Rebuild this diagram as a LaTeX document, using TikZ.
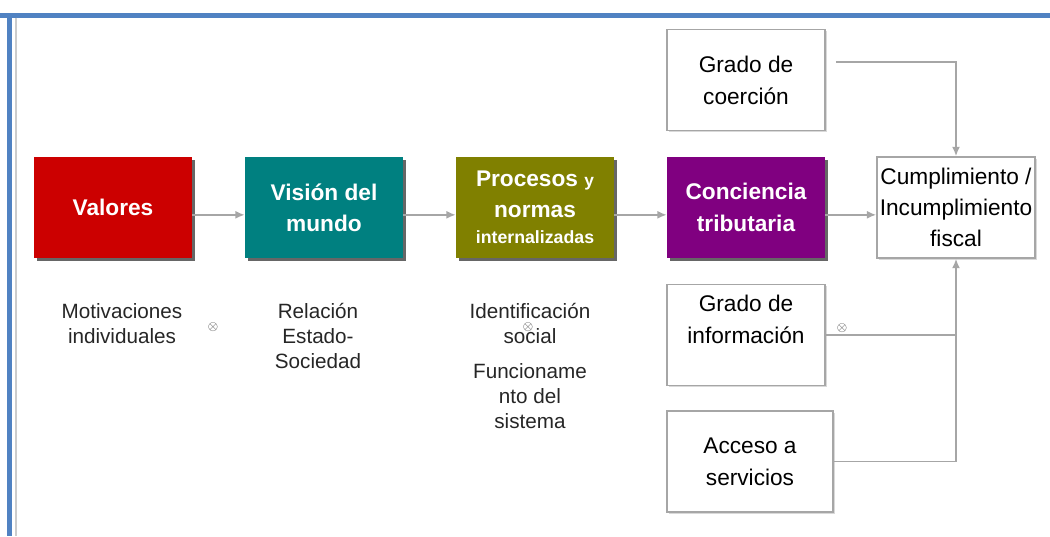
\documentclass[tikz,border=0pt]{standalone}
\usepackage{fontspec}
\setmainfont{Liberation Sans}
\usetikzlibrary{shadows,arrows.meta}

\definecolor{valred}{HTML}{CC0000}
\definecolor{mundoteal}{HTML}{008080}
\definecolor{normolive}{HTML}{808000}
\definecolor{concpurple}{HTML}{800080}
\definecolor{linegray}{HTML}{A6A6A6}
\definecolor{frameblue}{HTML}{5082C2}

\begin{document}
\begin{tikzpicture}[x=0.75pt, y=-0.75pt, >={Latex[length=7pt,width=6pt]},
    box/.style={minimum width=118.5pt, minimum height=75.75pt, inner sep=1pt, align=center},
    colbox/.style={box, fill=#1, text=white, font=\fontsize{17}{23.5}\selectfont\bfseries,
        drop shadow={shadow xshift=2.5pt, shadow yshift=-2.5pt, fill=black!60, opacity=1}},
    whitebox/.style={box, draw=linegray, line width=1.2pt, fill=white, font=\fontsize{17}{24}\selectfont,
        drop shadow={shadow xshift=1.2pt, shadow yshift=-1.2pt, fill=black!15, opacity=1}},
    flow/.style={draw=linegray, line width=1.3pt},
    note/.style={align=center, text=black!85, font=\fontsize{15.5}{18.75}\selectfont},
    crossmark/.style={inner sep=0pt, text=black!80, font=\fontsize{10}{10}\selectfont}]

    \useasboundingbox (0,0) rectangle (1050,536);

    % frame
    \fill [frameblue] (0,13) rectangle (1050,17.5);
    \fill [frameblue] (7,13) rectangle (12,536);
    \draw [black!20, line width=1.5pt] (15.5,17.5) -- (15.5,536);

    % main chain
    \node [colbox=valred] (valores) at (113,207.5) {Valores};
    \node [colbox=mundoteal] (mundo) at (324,207.5) {Visión del\\mundo};
    \node [colbox=normolive] (normas) at (535,207.5)
        {Procesos {\fontsize{13}{15}\selectfont y}\\normas\\[-4pt]{\fontsize{13.3}{16}\selectfont internalizadas}};
    \node [colbox=concpurple] (conciencia) at (746,207.5) {Conciencia\\tributaria};
    \node [whitebox, font=\fontsize{17}{23}\selectfont] (cumplimiento) at (956,207.5)
        {Cumplimiento /\\Incumplimiento\\fiscal};

    % side factors
    \node [whitebox] (coercion) at (746,80) {Grado de\\coerción};
    \node [whitebox, label={[align=center, yshift=11.5pt, font=\fontsize{17}{24}\selectfont]center:Grado de\\información}]
        (informacion) at (746,335) {};
    \node [whitebox, minimum width=124.5pt] (acceso) at (750,461.5) {Acceso a\\servicios};

    % notes
    \node [note] (motivaciones) at (122,323.5) {Motivaciones\\individuales};
    \node [note] (relacion) at (318,336) {Relación\\Estado-\\Sociedad};
    \node [note] (identificacion) at (530,323) {Identificación\\social};
    \node [note] (funcionamiento) at (530,396) {Funcioname\\nto del\\sistema};

    \foreach \x/\y [count=\i] in {213/327, 528/327, 842/328}
    \node [crossmark] (cross-\i) at (\x,\y) {$\otimes$};

    % connectors
    \foreach \a/\b in {valores/mundo, mundo/normas, normas/conciencia, conciencia/cumplimiento}
    \draw [flow, ->] ([yshift=-5.5pt]\a.east) -- ([yshift=-5.5pt]\b.west);

    \draw [flow, ->] ([xshift=7.5pt, yshift=13.5pt]coercion.east) -| (cumplimiento.north);
    \draw [flow] (informacion.east) -- (informacion.east -| cumplimiento.south);
    \draw [flow, ->] (acceso.east) -| (cumplimiento.south);
\end{tikzpicture}
\end{document}
